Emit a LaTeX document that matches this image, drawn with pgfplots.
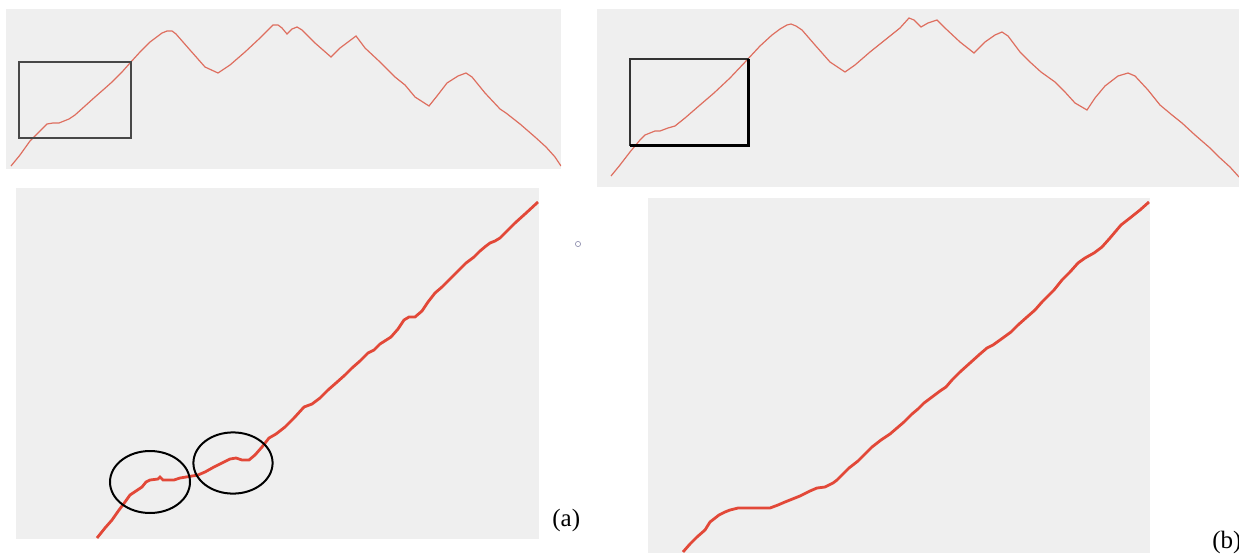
\documentclass[border=0pt]{standalone}
\usepackage{pgfplots}
\pgfplotsset{compat=1.18}
\usepackage{fontspec}
\setmainfont{Liberation Serif}
\definecolor{bgg}{RGB}{239,239,239}
\definecolor{thinred}{RGB}{222,110,95}
\definecolor{thickred}{RGB}{226,72,56}
\pgfplotsset{panel/.style={
  anchor=south west, scale only axis,
  axis line style={draw=none}, xtick=\empty, ytick=\empty,
  axis background/.style={fill=bgg},
  y dir=reverse, clip=true}}
\begin{document}
\begin{tikzpicture}
\path[use as bounding box] (0,0) rectangle (619.5pt,276.5pt);
\clip (0,0) rectangle (619.5pt,276.5pt);
% top-left
\begin{axis}[panel, at={(3pt,192pt)}, width=277.5pt, height=80pt,
  xmin=6, xmax=561, ymin=9, ymax=169]
\addplot[thinred, line width=0.6pt, mark=none] coordinates {
(11,166)(20,155)(30,141)(40,131)(47,124)(53,123)(59,123)(64,121)(69,119)(75,115)(85,106)(95,97)(103,90)(112,82)(122,72)(130,63)(140,52)(150,42)(162,33)(167,31)(172,31)(176,34)(190,50)(205,67)(218,73)(230,65)(245,52)(260,38)(273,25)(278,25)(282,28)(287,34)(292,29)(297,27)(302,30)(315,43)(331,57)(340,48)(356,36)(365,48)(380,62)(395,77)(405,85)(415,97)(429,106)(437,96)(447,83)(458,76)(466,73)(472,77)(485,93)(500,109)(506,113)(520,124)(535,137)(546,147)(555,157)(561,166)};
\draw[black!72, line width=0.8pt] (axis cs:19,62) rectangle (axis cs:131,138);
\end{axis}
% top-right
\begin{axis}[panel, at={(298.5pt,183pt)}, width=321pt, height=89pt,
  xmin=597, xmax=1239, ymin=9, ymax=187]
\addplot[thinred, line width=0.6pt, mark=none] coordinates {
(611,176)(620,165)(630,152)(640,140)(645,135)(650,133)(655,131)(660,131)(668,128)(675,126)(685,118)(700,105)(714,93)(730,78)(747,60)(760,46)(772,35)(780,29)(787,25)(791,24)(796,26)(802,30)(815,45)(830,62)(845,72)(855,65)(870,52)(885,40)(900,28)(909,18)(914,20)(921,27)(928,23)(937,20)(945,28)(960,42)(974,53)(985,42)(995,35)(1002,32)(1008,36)(1020,52)(1030,62)(1041,72)(1055,82)(1065,92)(1075,103)(1087,110)(1095,98)(1105,86)(1118,76)(1128,73)(1135,76)(1148,90)(1160,105)(1172,115)(1182,123)(1195,135)(1210,148)(1219,157)(1230,167)(1239,177)};
\draw[black!80, line width=1pt] (axis cs:630,59) rectangle (axis cs:748,145);
\draw[black, line width=1.5pt] (axis cs:630,145) -- (axis cs:748.5,145) -- (axis cs:748.5,59);
\end{axis}
% bottom-left
\begin{axis}[panel, at={(8pt,7pt)}, width=261.5pt, height=175.5pt,
  xmin=16, xmax=539, ymin=188, ymax=539]
\addplot[thickred, line width=1.4pt, mark=none] coordinates {
(97,538)(105,528)(112,520)(119,510)(125,502)(130,495)(136,491)(142,487)(146,482)(150,480)(158,479)(160,477)(163,480)(174,480)(180,478)(186,477)(198,475)(205,472)(214,467)(222,463)(230,459)(236,458)(242,460)(249,460)(255,455)(262,447)(269,438)(276,434)(285,427)(294,418)(304,407)(312,404)(320,398)(328,390)(336,383)(345,375)(352,368)(360,361)(368,353)(374,350)(380,344)(391,337)(398,329)(404,320)(409,317)(415,317)(422,311)(428,302)(435,293)(442,287)(448,281)(455,274)(459,270)(466,263)(474,257)(480,251)(486,246)(490,243)(495,241)(500,238)(506,232)(515,223)(525,214)(538,202)};
\draw[black, line width=1pt] (axis cs:150,482) ellipse [x radius=20pt, y radius=15.5pt];
\draw[black, line width=1pt] (axis cs:233,463) ellipse [x radius=19.8pt, y radius=15.3pt];
\end{axis}
% bottom-right
\begin{axis}[panel, at={(324pt,0pt)}, width=251pt, height=177.5pt,
  xmin=648, xmax=1150, ymin=198, ymax=553]
\addplot[thickred, line width=1.4pt, mark=none] coordinates {
(683,552)(690,544)(697,537)(705,530)(710,522)(719,515)(725,512)(730,510)(738,508)(750,508)(760,508)(770,508)(778,505)(785,502)(790,500)(800,496)(810,491)(817,488)(825,487)(833,483)(837,480)(843,474)(849,468)(858,461)(865,454)(872,447)(881,440)(890,434)(897,428)(904,422)(912,414)(918,409)(924,403)(932,397)(940,391)(946,387)(952,380)(960,372)(970,363)(980,354)(987,348)(993,345)(1000,340)(1011,332)(1018,325)(1027,317)(1035,310)(1042,302)(1048,296)(1054,290)(1062,280)(1070,272)(1078,263)(1085,258)(1094,253)(1102,247)(1110,238)(1121,225)(1130,218)(1140,210)(1149,202)};
\end{axis}
\node[anchor=west, inner sep=0pt, font=\fontsize{12.5}{14}\selectfont] at (276pt,16.5pt) {(a)};
\node[anchor=west, inner sep=0pt, font=\fontsize{12.5}{14}\selectfont] at (606pt,5.5pt) {(b)};
\draw[color={rgb,255:red,150;green,150;blue,180}, line width=0.35pt] (289pt,154.5pt) circle (1.3pt);
\end{tikzpicture}
\end{document}
